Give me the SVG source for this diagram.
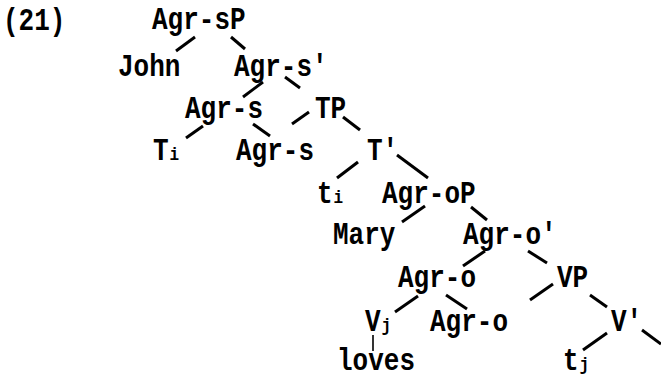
<svg xmlns="http://www.w3.org/2000/svg" width="661" height="380" viewBox="0 0 661 380">
<style>
.t{font-family:"Liberation Mono","DejaVu Sans Mono",monospace;font-weight:bold;font-size:26px;fill:#000}
.s{font-size:16px}
.e line{stroke:#000;stroke-width:3;stroke-linecap:butt}
.e line.thin{stroke-width:1.6}
</style>
<rect width="661" height="380" fill="#fff"/>
<g id="label"><text class="t" transform="translate(3,30) scale(1,1.2)">(21)</text></g>
<g id="n-agrsP"><text class="t" transform="translate(152,29) scale(1,1.2)">Agr-sP</text></g>
<g id="n-john"><text class="t" transform="translate(118,76) scale(1,1.2)">John</text></g>
<g id="n-agrs-bar"><text class="t" transform="translate(234,76) scale(1,1.2)">Agr-s'</text></g>
<g id="n-agrs1"><text class="t" transform="translate(185,118) scale(1,1.2)">Agr-s</text></g>
<g id="n-TP"><text class="t" transform="translate(315,118) scale(1,1.2)">TP</text></g>
<g id="n-Ti"><text class="t" transform="translate(153,160) scale(1,1.2)">T<tspan class="s" dx="1">i</tspan></text></g>
<g id="n-agrs2"><text class="t" transform="translate(236,160) scale(1,1.2)">Agr-s</text></g>
<g id="n-Tbar"><text class="t" transform="translate(367,160) scale(1,1.2)">T'</text></g>
<g id="n-ti"><text class="t" transform="translate(317,203) scale(1,1.2)">t<tspan class="s" dx="1">i</tspan></text></g>
<g id="n-agroP"><text class="t" transform="translate(382,203) scale(1,1.2)">Agr-oP</text></g>
<g id="n-mary"><text class="t" transform="translate(333,244) scale(1,1.2)">Mary</text></g>
<g id="n-agro-bar"><text class="t" transform="translate(463,244) scale(1,1.2)">Agr-o'</text></g>
<g id="n-agro1"><text class="t" transform="translate(398,287) scale(1,1.2)">Agr-o</text></g>
<g id="n-VP"><text class="t" transform="translate(557,287) scale(1,1.2)">VP</text></g>
<g id="n-Vj"><text class="t" transform="translate(365,331) scale(1,1.2)">V<tspan class="s" dx="1">j</tspan></text></g>
<g id="n-agro2"><text class="t" transform="translate(430,331) scale(1,1.2)">Agr-o</text></g>
<g id="n-Vbar"><text class="t" transform="translate(611,331) scale(1,1.2)">V'</text></g>
<g id="n-loves"><text class="t" transform="translate(337,370) scale(1,1.2)">loves</text></g>
<g id="n-tj"><text class="t" transform="translate(563,370) scale(1,1.2)">t<tspan class="s" dx="1">j</tspan></text></g>
<g id="connectors" class="e">
<line x1="195" y1="37" x2="176" y2="51"/>
<line x1="231" y1="37" x2="245" y2="49"/>
<line x1="263" y1="82" x2="243" y2="97"/>
<line x1="285" y1="77" x2="300" y2="88"/>
<line x1="203" y1="126" x2="186" y2="138"/>
<line x1="253" y1="124" x2="270" y2="136"/>
<line x1="309" y1="112" x2="292" y2="124"/>
<line x1="343" y1="117" x2="360" y2="130"/>
<line x1="358" y1="162" x2="337" y2="178"/>
<line x1="397" y1="155" x2="428" y2="178"/>
<line x1="425" y1="206" x2="402" y2="222"/>
<line x1="471" y1="207" x2="487" y2="220"/>
<line x1="485" y1="251" x2="463" y2="266"/>
<line x1="528" y1="251" x2="547" y2="263"/>
<line x1="418" y1="296" x2="395" y2="312"/>
<line x1="446" y1="295" x2="467" y2="309"/>
<line x1="553" y1="284" x2="530" y2="300"/>
<line x1="590" y1="295" x2="607" y2="307"/>
<line x1="607" y1="333" x2="583" y2="350"/>
<line x1="642" y1="330" x2="661" y2="344"/>
<line class="thin" x1="373" y1="335" x2="373" y2="351"/>
</g>
</svg>
